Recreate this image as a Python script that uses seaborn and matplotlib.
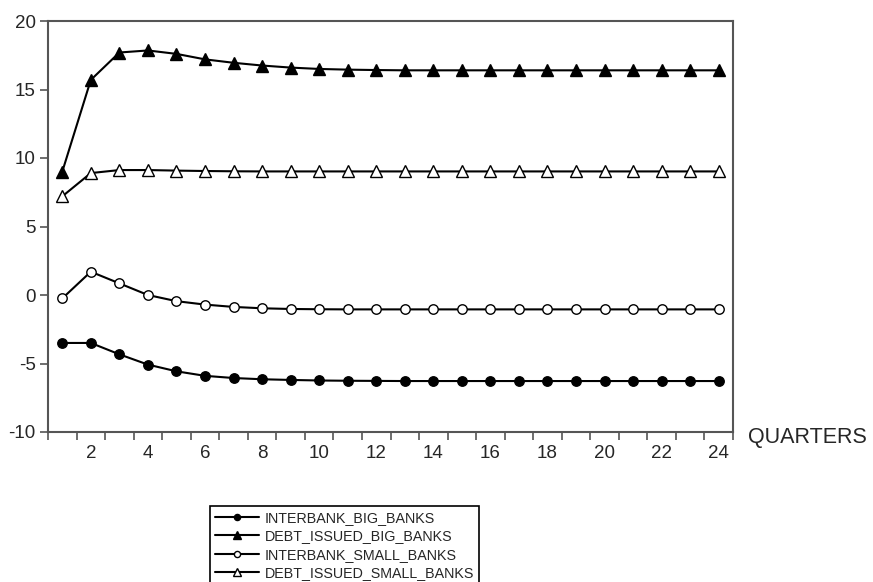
import matplotlib
matplotlib.use("Agg")
import matplotlib.pyplot as plt
from matplotlib.ticker import FixedLocator
import numpy as np
import pandas as pd
import seaborn as sns

quarters = list(range(1, 25))
interbank_big = [-3.50, -3.50, -4.33, -5.08, -5.57, -5.90, -6.06, -6.15, -6.20, -6.24,
                 -6.26, -6.27, -6.28, -6.28, -6.28, -6.28, -6.28, -6.28, -6.28, -6.28,
                 -6.28, -6.28, -6.28, -6.28]
debt_big = [9.00, 15.70, 17.70, 17.85, 17.60, 17.20, 16.95, 16.75, 16.60, 16.50,
            16.45, 16.42, 16.40, 16.40, 16.40, 16.40, 16.40, 16.40, 16.40, 16.40,
            16.40, 16.40, 16.40, 16.40]
interbank_small = [-0.25, 1.70, 0.85, 0.00, -0.45, -0.70, -0.87, -0.97, -1.02, -1.04,
                   -1.05, -1.05, -1.05, -1.05, -1.05, -1.05, -1.05, -1.05, -1.05, -1.05,
                   -1.05, -1.05, -1.05, -1.05]
debt_small = [7.20, 8.90, 9.12, 9.12, 9.08, 9.05, 9.03, 9.02, 9.02, 9.02,
              9.02, 9.02, 9.02, 9.02, 9.02, 9.02, 9.02, 9.02, 9.02, 9.02,
              9.02, 9.02, 9.02, 9.02]
series_names = ["INTERBANK_BIG_BANKS", "DEBT_ISSUED_BIG_BANKS",
                "INTERBANK_SMALL_BANKS", "DEBT_ISSUED_SMALL_BANKS"]
y_ticks = [-10, -5, 0, 5, 10, 15, 20]
x_tick_labels = [2, 4, 6, 8, 10, 12, 14, 16, 18, 20, 22, 24]

sns.set_theme(style="white")
plt.rcParams["font.family"] = ["Liberation Sans", "DejaVu Sans"]

fig = plt.figure(figsize=(8.73, 5.82), dpi=100)
ax = fig.add_axes([48/873, 1-432/582, (733-48)/873, (432-21)/582])

data = {series_names[0]: interbank_big, series_names[1]: debt_big,
        series_names[2]: interbank_small, series_names[3]: debt_small}
styles = {
    series_names[0]: dict(marker="o", mfc="black", ms=6.8),
    series_names[1]: dict(marker="^", mfc="black", ms=9),
    series_names[2]: dict(marker="o", mfc="white", ms=6.8),
    series_names[3]: dict(marker="^", mfc="white", ms=9),
}
for name in series_names:
    df = pd.DataFrame({"q": quarters, "v": data[name]})
    st = styles[name]
    sns.lineplot(data=df, x="q", y="v", ax=ax, color="black", linewidth=1.5,
                 marker=st["marker"], markerfacecolor=st["mfc"], markeredgecolor="black",
                 markeredgewidth=1.0, markersize=st["ms"], label=name, legend=False)

ax.set_xlim(0.5, 24.5)
ax.set_ylim(-10, 20)
ax.set_xlabel("")
ax.set_ylabel("")
ax.xaxis.set_major_locator(FixedLocator(x_tick_labels))
ax.set_xticklabels([str(v) for v in x_tick_labels])
ax.xaxis.set_minor_locator(FixedLocator(np.arange(0.5, 25, 1.0)))
ax.set_yticks(y_ticks)
ax.set_yticklabels([str(v) for v in y_ticks])
ax.tick_params(axis="x", which="major", length=0, pad=9, labelsize=13.5)
ax.tick_params(axis="x", which="minor", length=6, width=1.2, color="#555555", direction="out", bottom=True)
ax.tick_params(axis="y", which="major", length=6, width=1.2, color="#555555", direction="out", left=True, labelsize=13.5, pad=3)
for sp in ax.spines.values():
    sp.set_color("#555555")
    sp.set_linewidth(1.5)
    sp.set_visible(True)

fig.text(748/873, 1-438/582, "QUARTERS", fontsize=15.5, va="center", ha="left")

handles = ax.get_lines()[:4]
leg = fig.legend(handles, series_names, loc="upper left",
                 bbox_to_anchor=(210/873, 1-506/582), frameon=True, fancybox=False,
                 edgecolor="black", framealpha=1,
                 prop={"size": 10.3}, labelspacing=0.3,
                 handlelength=3.1, handletextpad=0.4, borderpad=0.35, markerscale=0.65,
                 borderaxespad=0)
leg.get_frame().set_linewidth(1.2)

fig.savefig("out.png", dpi=100)
